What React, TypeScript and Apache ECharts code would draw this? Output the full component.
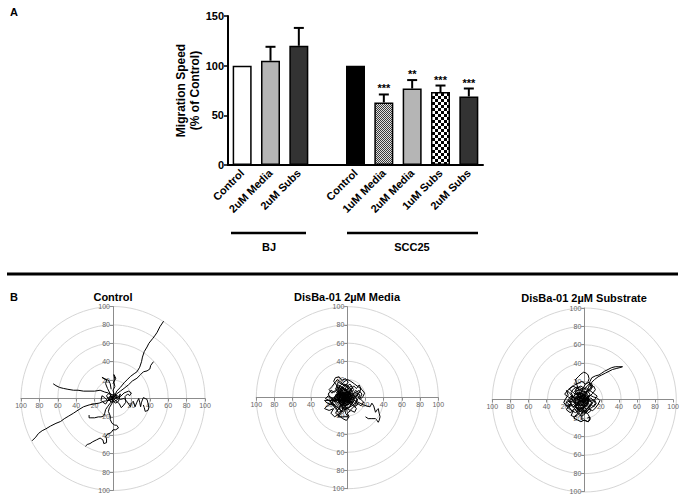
import React, { useEffect, useRef } from 'react';
import * as echarts from 'echarts';

const FONT = 'Liberation Sans, Arial, Helvetica, sans-serif';

// ---- Panel A data ----
const categories = ['Control', '2uM Media', '2uM Subs', '', 'Control', '1uM Media', '2uM Media', '1uM Subs', '2uM Subs'];
const meanSpeed: (number | null)[] = [100, 105, 120, null, 100, 63, 77, 73.5, 69];
const errorTop: (number | null)[] = [null, 119, 138, null, null, 71, 85.5, 80, 77];
const significance = ['', '', '', '', '', '***', '**', '***', '***'];
const groupLabels = ['BJ', 'SCC25'];
const yAxisName = 'Migration Speed\n(% of Control)';

// ---- Panel B data (cell trajectories, µm) ----
const polarTitles = ['Control', 'DisBa-01 2µM Media', 'DisBa-01 2µM Substrate'];

const controlTracks: number[][][] = [
  [[0,0],[2,3],[4,8],[8,12],[12,17],[16,21],[19,24],[23,27],[26,29],[29,34],[31,40],[32,45],[34,51],[37,56],[39,60],[43,65],[46,69],[48,72],[51,78],[55,84]],
  [[1,1],[4,5],[8,8],[12,11],[17,15],[21,19],[26,22],[30,26],[33,29],[37,30],[40,32],[41,36],[44,40]],
  [[-1,0],[-3,4],[-5,6],[-9,7],[-14,9],[-20,8],[-25,8],[-32,8],[-38,9],[-43,9],[-49,10],[-54,11],[-58,12],[-62,14],[-65,16]],
  [[0,-1],[-4,-2],[-10,-3],[-15,-5],[-21,-6],[-26,-7],[-32,-9],[-37,-12],[-43,-16],[-48,-19],[-53,-22],[-57,-25],[-62,-27],[-68,-30],[-73,-33],[-77,-35],[-81,-38],[-84,-42],[-88,-46]],
  [[1,-1],[-1,-5],[-4,-10],[-5,-14],[-3,-19],[-3,-23],[-1,-27],[2,-29],[4,-29],[6,-32],[3,-34],[0,-34],[-2,-37],[-6,-39],[-8,-41],[-7,-44],[-7,-48],[-10,-49],[-11,-45],[-14,-43],[-18,-45],[-22,-47],[-25,-49],[-28,-50],[-30,-52]],
  [[2,0],[5,1],[8,-1],[12,0],[15,-3],[17,-6],[19,-9],[20,-5],[22,-3],[23,-6],[24,-9],[26,-4],[28,0],[29,-4],[30,-9],[31,-4],[33,1],[35,0],[37,-1],[38,-5],[39,-10],[38,-13],[35,-14],[34,-10],[33,-7]],
  [[0,-2],[-3,-5],[-6,-9],[-8,-12],[-9,-16],[-10,-19],[-13,-20],[-16,-20],[-20,-21],[-24,-21],[-26,-21],[-26,-18]],
  [[0,1],[1,5],[0,9],[2,13],[1,18],[3,22],[1,26],[2,21],[0,16]],
  [[-2,2],[-4,7],[-6,11],[-8,16],[-7,20],[-10,22],[-12,23],[-9,21],[-5,20],[-3,16],[-2,10]],
  [[0,0],[-6,-2],[-9,1],[-12,3],[-13,-2],[-11,-4],[-8,-6],[-6,-3],[-3,2],[3,4],[6,2],[8,5],[6,-3],[3,-5],[0,-3],[-3,1],[1,3]],
  [[0,0],[4,-3],[7,-6],[9,-10],[11,-8],[14,-4],[13,2],[16,5],[18,3],[20,6],[17,8],[12,6],[8,2],[3,1]],
  [[0,0],[-3,-2],[-5,1],[-2,3],[1,-1],[4,2],[2,5],[-1,4],[-4,6],[-7,3],[-5,-1],[-2,-4],[2,-3],[5,-1],[3,2],[0,1]],
];

const mediaTracks: number[][][] = [
  [[0,0],[-5,3],[-9,8],[-12,14],[-15,18],[-13,22],[-9,23],[-6,19],[-2,21],[1,17],[-3,12],[-7,9],[-10,4],[-6,-1],[-2,-4],[3,-2],[6,3],[9,8],[12,6],[10,1],[6,-3],[2,-7],[-3,-9],[-8,-6],[-11,-2],[-7,2],[-2,5],[3,7],[6,11],[3,15],[-1,12],[-4,6],[0,2]],
  [[0,0],[4,3],[8,5],[13,8],[16,4],[14,-1],[18,-5],[15,-9],[11,-6],[7,-10],[3,-14],[-1,-11],[-4,-16],[-8,-13],[-12,-9],[-16,-6],[-20,-3],[-24,-1],[-21,2],[-17,0],[-14,-4],[-10,-1],[-6,3],[-3,-2],[1,-5],[5,-1],[2,4],[-2,8],[-6,11],[-3,15],[2,12],[5,8],[1,3]],
  [[0,0],[5,-2],[10,-4],[14,-6],[18,-8],[21,-9],[25,-10],[27,-6],[29,-9],[31,-16],[33,-13],[34,-12],[35,-17],[36,-21],[35,-25],[34,-27],[32,-24],[31,-23],[27,-23],[23,-23],[20,-21]],
  [[0,0],[-3,-4],[-7,-8],[-10,-13],[-13,-17],[-9,-20],[-5,-23],[-1,-25],[2,-21],[0,-17],[4,-14],[8,-16],[10,-12],[7,-8],[4,-4],[8,0],[11,3],[14,-2],[17,1],[19,5],[16,9],[12,12],[8,15],[4,18],[0,20],[-4,17],[-8,13],[-11,9],[-14,6],[-18,8],[-21,4],[-19,0],[-15,-3],[-11,-5],[-7,-3],[-3,0]],
  [[0,0],[-4,2],[-7,-1],[-5,-5],[-1,-3],[2,1],[-1,5],[-5,6],[-8,3],[-10,-2],[-8,-7],[-4,-9],[0,-7],[3,-4],[5,1],[3,5],[-1,8],[-5,9],[-9,6],[-11,1],[-9,-4],[-5,-2],[-2,2],[-6,4],[-3,-1],[1,-2],[4,3],[0,6],[-4,4],[-2,0]],
  [[0,0],[-6,-3],[-12,-2],[-17,-6],[-22,-9],[-25,-12],[-20,-14],[-15,-12],[-18,-17],[-14,-21],[-9,-18],[-6,-14],[-3,-10],[1,-12],[4,-9],[2,-5],[-2,-2],[-6,1],[-9,5],[-13,3],[-10,-1],[-5,0],[-1,4],[3,1]],
  [[0,0],[3,6],[1,11],[-3,14],[-7,17],[-11,20],[-14,16],[-17,12],[-20,9],[-17,5],[-13,8],[-10,12],[-6,9],[-8,5],[-4,2],[0,4],[4,9],[7,13],[10,10],[13,14],[15,10],[13,5],[9,2],[5,-1],[1,-4],[-3,-6],[-6,-10],[-2,-13],[2,-10],[5,-6],[1,-2]],
  [[0,0],[-8,-2],[-14,-3],[-20,-3],[-25,-3],[-22,-6],[-16,-8],[-10,-11],[-6,-16],[-10,-21],[-5,-21],[1,-21],[-2,-17],[-1,-12],[-3,-6]],
  [[0,0],[-2,-3],[-6,-5],[-9,-3],[-12,0],[-10,4],[-7,7],[-3,9],[1,6],[4,2],[2,-2],[-1,-6],[-5,-8],[-9,-10],[-12,-7],[-15,-3],[-13,2],[-9,5],[-5,3],[-2,0],[2,-3],[5,-6],[8,-3],[6,1],[3,4],[0,7],[-4,10],[-8,12],[-11,8],[-8,2],[-4,-1]],
  [[0,0],[-3,3],[-1,7],[-4,11],[-8,9],[-11,5],[-14,1],[-12,-4],[-9,-8],[-5,-11],[-1,-9],[2,-5],[6,-4],[9,-7],[11,-3],[8,2],[5,5],[1,2],[-2,-2],[-6,-1],[-9,2],[-6,6],[-2,4],[0,-3],[-4,-6],[-7,-3],[-3,1]],
  [[0,0],[-7,2],[-10,6],[-13,10],[-10,14],[-6,12],[-3,8],[1,10],[4,13],[7,9],[5,5],[8,1],[11,-2],[9,-6],[5,-9],[1,-11],[-3,-13],[-7,-11],[-11,-13],[-14,-9],[-17,-5],[-14,-1],[-10,-3],[-6,-6],[-2,-4],[2,-1],[-1,3],[-5,5],[-8,1],[-5,-2]],
  [[-2,1],[-6,-1],[-4,-4],[0,-2],[3,-5],[1,-8],[-3,-6],[-7,-8],[-10,-5],[-8,0],[-11,3],[-7,5],[-4,3],[-1,6],[3,4],[5,8],[2,10],[-2,13],[-6,15],[-10,17],[-12,12],[-9,10],[-5,8],[-8,6],[-12,2],[-15,-1],[-11,-3],[-6,-3]],
  [[0,0],[4,-2],[7,2],[10,5],[14,3],[12,-1],[9,-4],[12,-7],[8,-10],[4,-7],[0,-4],[-4,-2],[-8,-5],[-6,-9],[-2,-12],[-6,-15],[-10,-16],[-13,-12],[-16,-8],[-19,-4],[-16,0],[-12,-1],[-9,3],[-12,6],[-8,9],[-4,6],[-1,2],[3,5],[0,9],[-3,6]],
  [[-5,0],[-3,4],[-7,3],[-9,-1],[-6,-4],[-2,-2],[1,1],[-3,2],[-5,-2],[-1,-5],[2,-2],[0,3],[-4,5],[-8,4],[-10,0],[-7,-5],[-3,-7],[1,-5],[3,-1],[1,4],[-3,6],[-7,6],[-6,1],[-2,-1]],
];

const substrateTracks: number[][][] = [
  [[0,0],[3,5],[5,10],[7,15],[8,20],[10,24],[14,26],[18,27],[21,29],[24,31],[28,33],[32,35],[36,36],[40,36],[44,36],[41,35],[37,34],[33,33],[29,31],[25,29],[21,27],[17,25],[13,22],[10,19],[8,14]],
  [[0,0],[-3,6],[-5,12],[-7,18],[-8,22],[-5,25],[-2,28],[1,30],[4,29],[6,27],[7,23],[6,20],[3,17],[0,12],[-2,7]],
  [[0,0],[-4,3],[-8,1],[-12,4],[-15,8],[-18,10],[-16,5],[-19,1],[-21,-3],[-18,-7],[-14,-5],[-10,-9],[-6,-12],[-2,-9],[2,-12],[6,-9],[9,-5],[12,-8],[15,-4],[13,0],[16,4],[12,7],[8,10],[4,13],[0,11],[-4,14],[-8,11],[-5,7],[-1,4],[3,2],[6,-2],[2,-5],[-2,-2]],
  [[0,0],[3,-4],[1,-9],[-3,-13],[-7,-16],[-10,-20],[-6,-22],[-2,-24],[2,-22],[6,-24],[8,-20],[6,-16],[3,-13],[7,-10],[11,-12],[14,-9],[17,-5],[19,-1],[16,2],[12,3],[8,5],[4,3],[0,6],[-4,8],[-8,6],[-12,9],[-15,12],[-11,15],[-7,13],[-3,10],[1,8],[5,9],[9,12],[12,15],[14,11],[11,7],[7,3],[3,0]],
  [[0,0],[-3,-3],[-6,-1],[-5,3],[-1,4],[2,1],[4,-3],[1,-6],[-3,-7],[-7,-5],[-9,-1],[-7,4],[-3,7],[1,6],[5,4],[7,0],[5,-5],[1,-3],[-2,0],[-5,-3],[-8,-8],[-4,-10],[0,-8],[4,-6],[3,-1],[0,2],[-4,1]],
  [[0,0],[-6,-4],[-11,-2],[-15,-6],[-18,-11],[-14,-14],[-10,-12],[-13,-17],[-9,-19],[-5,-16],[-1,-18],[3,-15],[0,-11],[-4,-8],[-8,-4],[-12,1],[-16,3],[-20,6],[-17,10],[-13,13],[-9,16],[-5,18],[-1,20],[3,17],[7,19],[10,15],[7,11],[3,8],[-1,5],[2,1]],
  [[0,0],[2,-6],[0,-12],[-1,-17],[-1,-22],[3,-23],[6,-24],[8,-22],[8,-19],[5,-20]],
  [[0,0],[-5,5],[-9,9],[-6,13],[-2,15],[2,12],[5,15],[8,18],[11,16],[9,11],[5,7],[1,3],[-3,-1],[-7,2],[-11,-1],[-14,-3],[-17,-1],[-19,-5],[-16,-9],[-12,-12],[-8,-14],[-4,-12],[0,-14],[4,-11],[7,-7],[10,-3],[6,0],[2,-2]],
  [[0,0],[-3,-4],[-7,-6],[-10,-3],[-12,1],[-9,5],[-5,7],[-1,5],[3,3],[6,-1],[4,-5],[1,-9],[-3,-11],[-7,-9],[-11,-7],[-14,-3],[-12,2],[-8,3],[-4,0],[0,-3],[4,-2],[7,2],[5,6],[1,9],[-3,8],[-6,4],[-3,1]],
  [[0,0],[3,3],[0,7],[-4,5],[-8,7],[-10,3],[-8,-2],[-4,-5],[0,-7],[4,-10],[8,-8],[10,-4],[8,0],[4,2],[1,-2],[-3,-1],[-6,-4],[-9,-7],[-6,-10],[-2,-13],[2,-15],[5,-12],[2,-8],[-1,-4],[-5,0],[-2,3]],
  [[-1,-1],[-5,-3],[-3,-7],[1,-5],[4,-8],[7,-5],[5,-1],[9,2],[12,-1],[10,-5],[6,-8],[9,-12],[5,-15],[1,-12],[-2,-16],[-6,-14],[-9,-10],[-12,-12],[-15,-8],[-13,-4],[-16,0],[-13,4],[-9,1],[-6,4],[-2,2],[1,5],[4,8],[0,10],[-4,11],[-8,9],[-6,5],[-2,2]],
  [[0,-2],[-4,0],[-6,-4],[-3,-6],[1,-4],[3,0],[0,3],[-4,4],[-7,1],[-9,-3],[-7,-8],[-3,-9],[1,-8],[5,-6],[6,-2],[4,3],[0,5],[-4,2],[-2,-2],[2,-1]],
  [[0,0],[5,2],[8,6],[5,10],[1,13],[-3,11],[-6,14],[-10,12],[-13,8],[-11,4],[-14,0],[-17,-3],[-14,-7],[-10,-5],[-7,-9],[-4,-13],[0,-11],[4,-14],[7,-10],[11,-8],[14,-4],[12,0],[8,-2],[4,1],[0,-3],[-4,-5],[-7,-1],[-4,3],[0,1]],
];

function checker(cell: number, a: string, b: string) {
  const c = document.createElement('canvas');
  c.width = cell * 2;
  c.height = cell * 2;
  const ctx = c.getContext('2d')!;
  ctx.fillStyle = b;
  ctx.fillRect(0, 0, cell * 2, cell * 2);
  ctx.fillStyle = a;
  ctx.fillRect(0, 0, cell, cell);
  ctx.fillRect(cell, cell, cell, cell);
  return { image: c, repeat: 'repeat' } as any;
}

export default function App() {
  const ref = useRef<HTMLDivElement>(null);
  useEffect(() => {
    if (!ref.current) return;
    const chart = echarts.init(ref.current, undefined, { renderer: 'svg' });

    const fine = checker(1, '#3a3a3a', '#e0e0e0');
    const coarse = checker(3, '#000000', '#ffffff');
    const fills: any[] = ['#ffffff', '#b5b5b5', '#333333', '#ffffff', '#000000', fine, '#b5b5b5', coarse, '#333333'];

    const polarLayout = [
      { cx: 113, cy: 398.5, r: 92 },
      { cx: 347.3, cy: 397.7, r: 91 },
      { cx: 584.3, cy: 400, r: 92 },
    ];
    const trackSets = [controlTracks, mediaTracks, substrateTracks];

    const grids: any[] = [{ left: 228, top: 16, width: 255, height: 149 }];
    const xAxes: any[] = [
      {
        gridIndex: 0,
        type: 'category',
        data: categories,
        axisLine: { lineStyle: { color: '#000', width: 2 } },
        axisTick: { alignWithLabel: true, length: 5, lineStyle: { color: '#000', width: 1.5 } },
        axisLabel: { rotate: 45, interval: 0, fontWeight: 'bold', fontSize: 11, color: '#000', margin: 6, fontFamily: FONT },
      },
    ];
    const yAxes: any[] = [
      {
        gridIndex: 0,
        type: 'value',
        min: 0,
        max: 150,
        interval: 50,
        name: yAxisName,
        nameLocation: 'middle',
        nameGap: 22,
        nameTextStyle: { fontWeight: 'bold', fontSize: 12, color: '#000', lineHeight: 14, fontFamily: FONT },
        axisLine: { show: true, lineStyle: { color: '#000', width: 2 } },
        axisTick: { show: true, length: 4, lineStyle: { color: '#000', width: 1.5 } },
        axisLabel: { fontWeight: 'bold', fontSize: 11, color: '#000', margin: 4, fontFamily: FONT },
        splitLine: { show: false },
      },
    ];
    const polars: any[] = [];
    const radiusAxes: any[] = [];
    const angleAxes: any[] = [];
    const series: any[] = [
      {
        type: 'bar',
        xAxisIndex: 0,
        yAxisIndex: 0,
        barWidth: 19,
        itemStyle: { borderColor: '#000', borderWidth: 1.5 },
        data: meanSpeed.map((v, i) => ({ value: v, itemStyle: { color: fills[i] } })),
        z: 2,
      },
      {
        type: 'custom',
        xAxisIndex: 0,
        yAxisIndex: 0,
        z: 3,
        data: categories
          .map((_, i) => [i, meanSpeed[i], errorTop[i], i])
          .filter((d) => d[2] != null),
        renderItem: (params: any, api: any) => {
          const base = api.coord([api.value(0), api.value(1)]);
          const top = api.coord([api.value(0), api.value(2)]);
          const idx = api.value(3);
          const half = 5;
          const children: any[] = [
            { type: 'line', shape: { x1: base[0], y1: base[1], x2: top[0], y2: top[1] }, style: { stroke: '#000', lineWidth: 2 } },
            { type: 'line', shape: { x1: top[0] - half, y1: top[1], x2: top[0] + half, y2: top[1] }, style: { stroke: '#000', lineWidth: 2 } },
          ];
          if (significance[idx]) {
            children.push({
              type: 'text',
              x: top[0],
              y: top[1] - 6,
              style: { text: significance[idx], textAlign: 'center', textVerticalAlign: 'middle', font: 'bold 11px ' + FONT, fill: '#000' },
            });
          }
          return { type: 'group', children };
        },
      },
    ];

    polarLayout.forEach((p, k) => {
      const g = k + 1;
      grids.push({ left: p.cx - p.r, top: p.cy - p.r, width: p.r * 2, height: p.r * 2 });
      const axisCommon = {
        gridIndex: g,
        type: 'value',
        min: -100,
        max: 100,
        interval: 20,
        offset: -p.r,
        axisLine: { onZero: false, lineStyle: { color: '#8c8c8c', width: 1 } },
        axisTick: { show: true, length: 3, lineStyle: { color: '#8c8c8c' } },
        axisLabel: {
          fontSize: 7,
          color: '#666',
          margin: 3,
          fontFamily: FONT,
          showMinLabel: true,
          showMaxLabel: true,
          formatter: (v: number) => (v === 0 ? '' : String(Math.abs(v))),
        },
        splitLine: { show: false },
      };
      xAxes.push({ ...axisCommon, position: 'bottom' });
      yAxes.push({ ...axisCommon, position: 'left' });
      polars.push({ center: [p.cx, p.cy], radius: p.r });
      radiusAxes.push({
        polarIndex: k,
        type: 'value',
        min: 0,
        max: 100,
        interval: 20,
        axisLine: { show: false },
        axisTick: { show: false },
        axisLabel: { show: false },
        splitLine: { show: true, lineStyle: { color: '#d6d6d6', width: 1 } },
        z: 0,
      });
      angleAxes.push({ polarIndex: k, type: 'value', min: 0, max: 360, show: false });
      trackSets[k].forEach((t) => {
        series.push({
          type: 'line',
          xAxisIndex: g,
          yAxisIndex: g,
          data: t,
          symbol: 'none',
          silent: true,
          lineStyle: { color: '#000', width: 1 },
          z: 5,
        });
      });
    });

    const graphic: any[] = [
      { type: 'text', x: 10, y: 12, style: { text: 'A', font: 'bold 11px ' + FONT, fill: '#000', textAlign: 'left', textVerticalAlign: 'middle' } },
      { type: 'text', x: 10, y: 297, style: { text: 'B', font: 'bold 11px ' + FONT, fill: '#000', textAlign: 'left', textVerticalAlign: 'middle' } },
      { type: 'line', shape: { x1: 231, y1: 233, x2: 306, y2: 233 }, style: { stroke: '#000', lineWidth: 2.5 } },
      { type: 'line', shape: { x1: 347, y1: 233, x2: 478, y2: 233 }, style: { stroke: '#000', lineWidth: 2.5 } },
      { type: 'text', x: 269, y: 247, style: { text: groupLabels[0], font: 'bold 11px ' + FONT, fill: '#000', textAlign: 'center', textVerticalAlign: 'middle' } },
      { type: 'text', x: 412, y: 247, style: { text: groupLabels[1], font: 'bold 11px ' + FONT, fill: '#000', textAlign: 'center', textVerticalAlign: 'middle' } },
      { type: 'line', shape: { x1: 7, y1: 274, x2: 678, y2: 274 }, style: { stroke: '#000', lineWidth: 3 } },
      { type: 'text', x: 113, y: 297, style: { text: polarTitles[0], font: 'bold 11px ' + FONT, fill: '#000', textAlign: 'center', textVerticalAlign: 'middle' } },
      { type: 'text', x: 347, y: 297, style: { text: polarTitles[1], font: 'bold 11px ' + FONT, fill: '#000', textAlign: 'center', textVerticalAlign: 'middle' } },
      { type: 'text', x: 584, y: 298, style: { text: polarTitles[2], font: 'bold 11px ' + FONT, fill: '#000', textAlign: 'center', textVerticalAlign: 'middle' } },
    ];

    chart.setOption({
      animation: false,
      backgroundColor: '#ffffff',
      textStyle: { fontFamily: FONT },
      grid: grids,
      xAxis: xAxes,
      yAxis: yAxes,
      polar: polars,
      radiusAxis: radiusAxes,
      angleAxis: angleAxes,
      series,
      graphic,
    });
    return () => chart.dispose();
  }, []);

  return <div ref={ref} style={{ position: 'fixed', left: 0, top: 0, width: 682, height: 495, background: '#fff' }} />;
}
